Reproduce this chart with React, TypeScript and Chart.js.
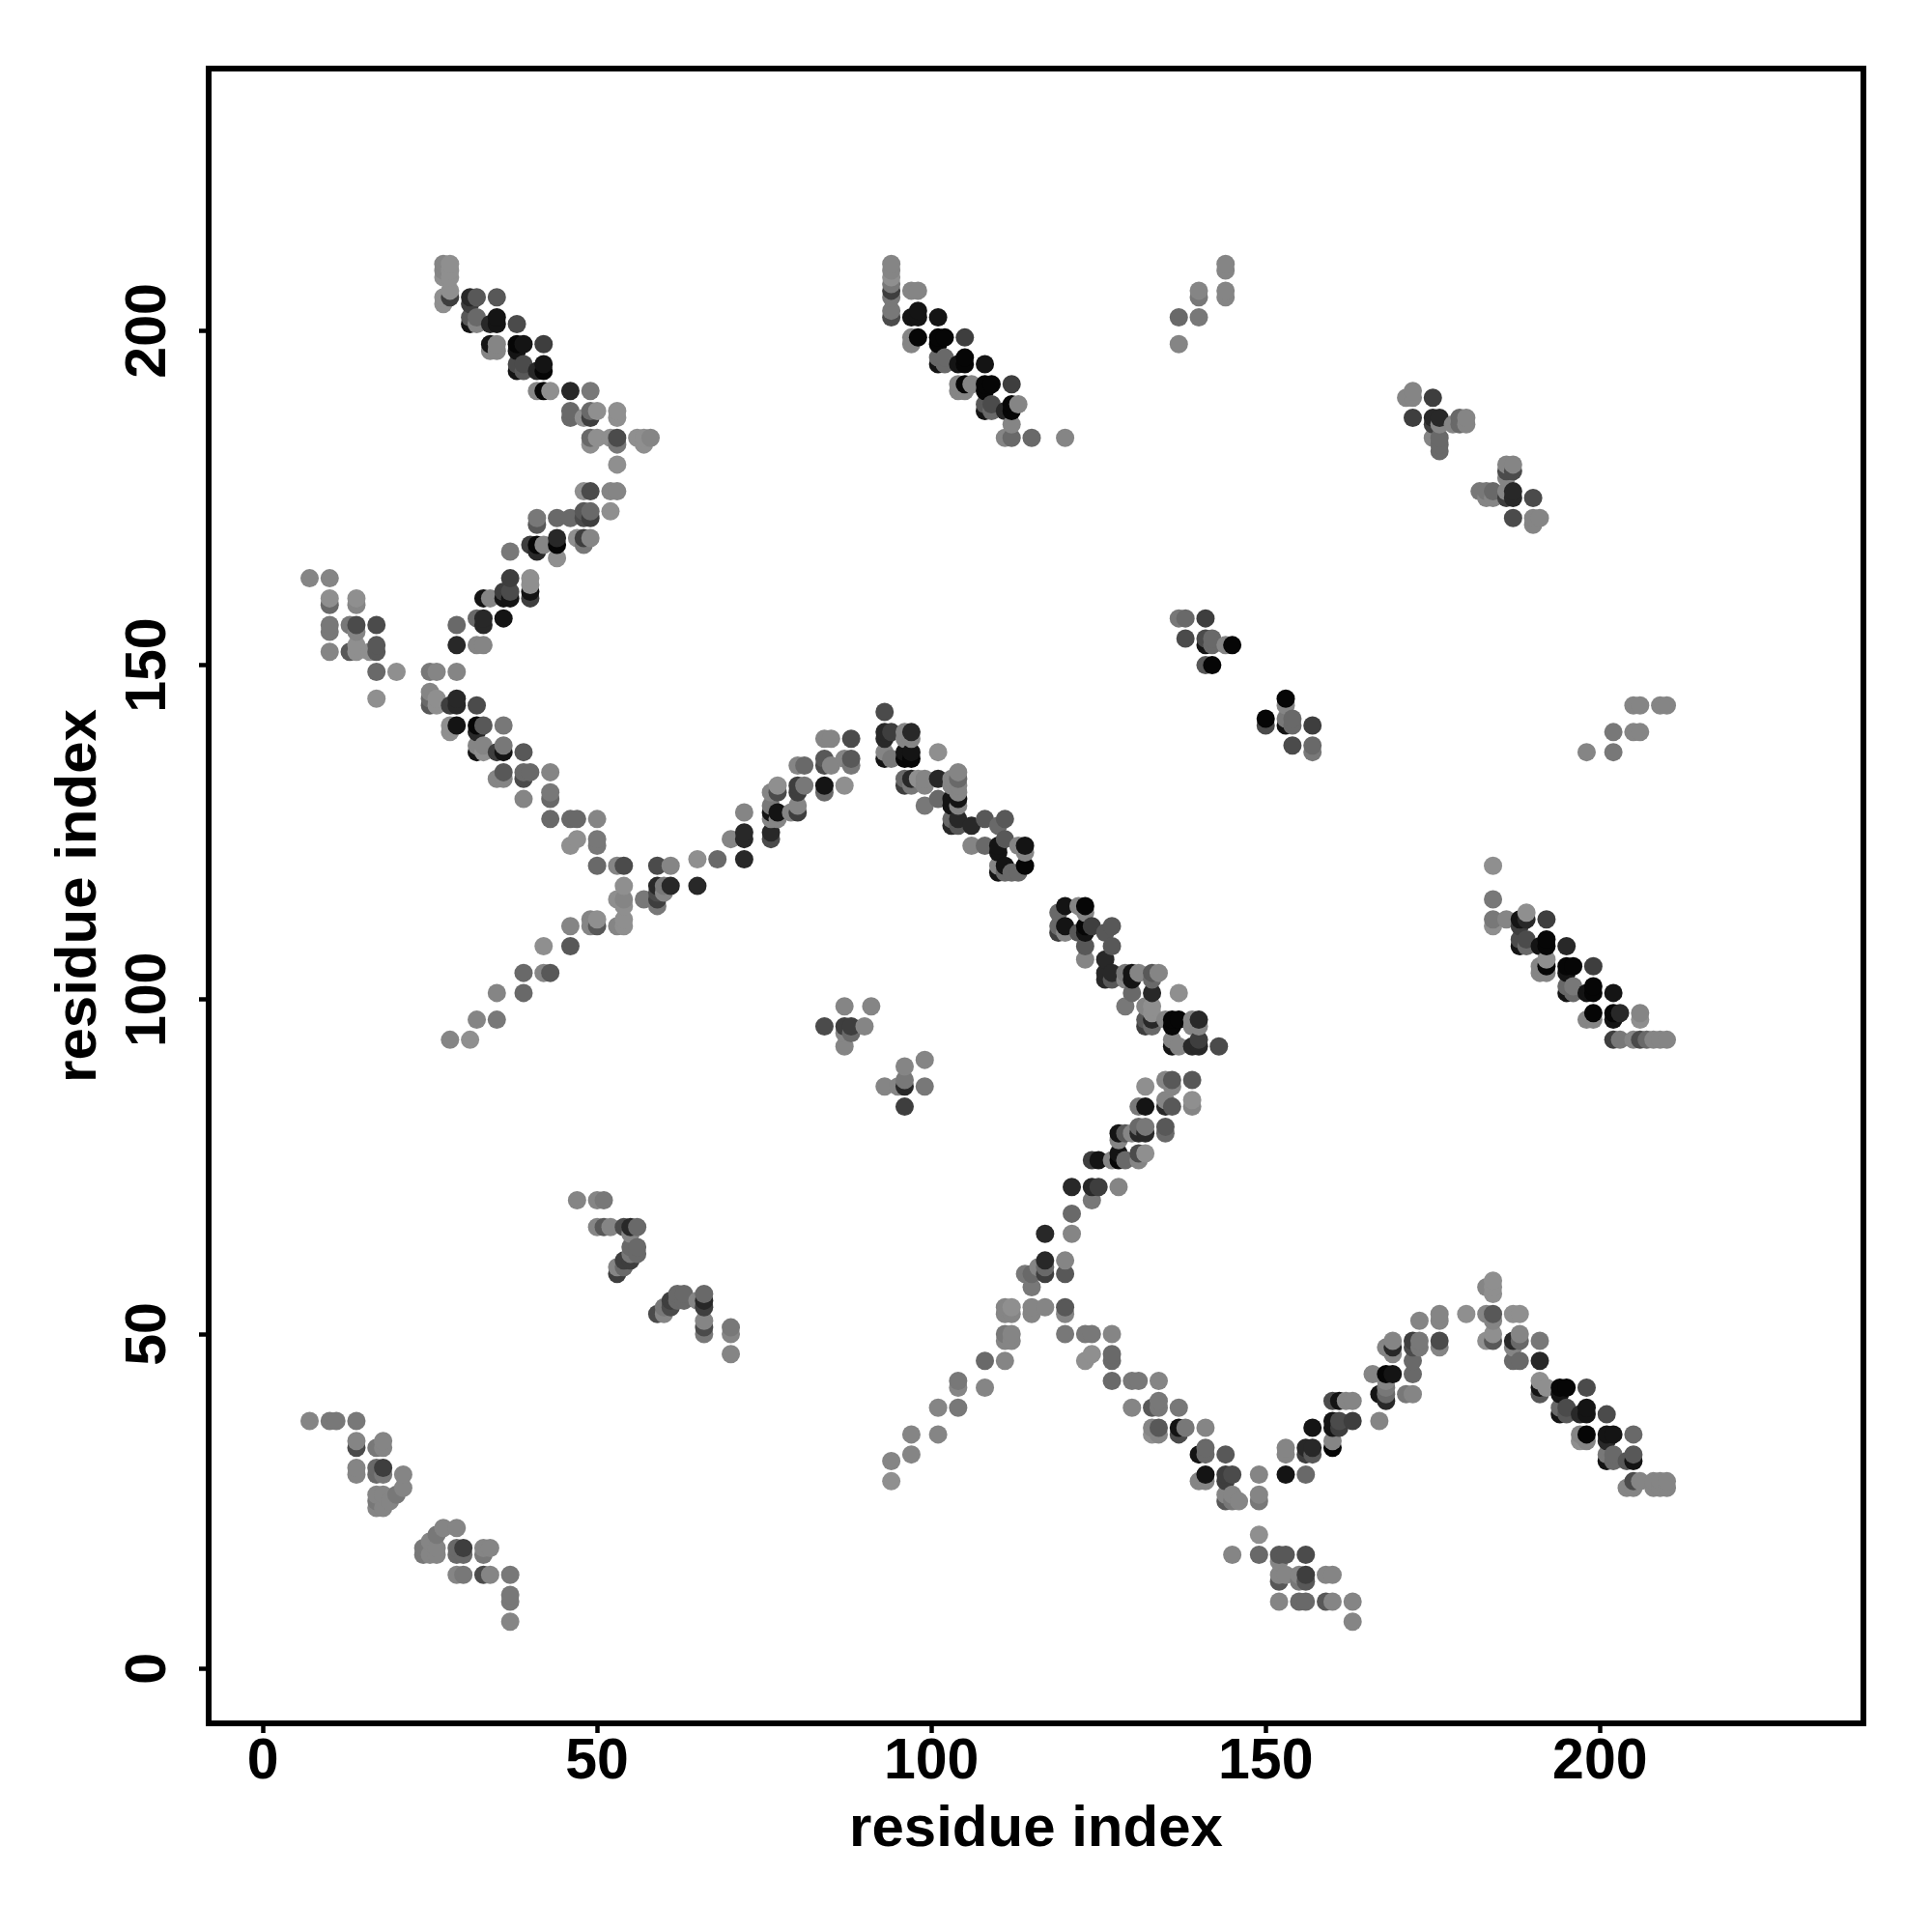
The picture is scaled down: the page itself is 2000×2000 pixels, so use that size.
import React, { useEffect, useRef } from "react";
import { Chart, registerables } from "chart.js";

Chart.register(...registerables);

type P = [number, number, number];

const tickValues = [0, 50, 100, 150, 200];
const axisTitle = "residue index";
// each entry: residue i, residue j, contact weight 0..9
const upperLeftA: P[] = [
[27,210,1],[28,210,0],[27,209,1],[28,209,0],[27,208,0],[28,208,0],[27,205,0],[27,204,0],[28,205,6],[28,206,0],
[31,205,7],[32,205,4],[31,204,6],[35,205,4],[31,201,8],[31,202,4],[32,202,3],[32,201,1],[34,201,7],[35,202,8],[35,201,8],[38,201,5],
[34,198,8],[35,198,1],[34,197,1],[35,197,1],[38,198,9],[39,198,8],[38,197,8],[42,198,6],[38,195,5],[38,194,8],[39,195,5],[39,194,4],
[41,194,7],[42,195,8],[42,194,9],[41,191,1],[42,191,9],[43,191,0],[46,191,7],[49,191,2],[46,188,3],[46,187,3],[49,188,3],[50,188,0],[49,187,6],[48,187,0],
[53,188,0],[53,187,0],[49,184,3],[50,184,0],[49,183,0],[52,184,0],[53,184,5],[53,183,2],[56,184,0],[57,184,0],[58,184,1],[57,183,0],[53,180,0],
[48,176,0],[49,176,5],[52,176,1],[53,176,1],[52,173,0],[48,173,4],[49,173,3],[48,172,5],[49,172,6],[46,172,3],[44,172,3],[41,172,2],[41,171,4],
[47,169,0],[48,169,6],[49,169,1],[48,168,2],[44,169,7],[44,168,9],[44,166,0],[40,168,6],[41,168,9],[41,167,7],[42,168,1],[37,167,2],
[37,163,6],[40,163,0],[40,162,0],[40,160,6],[40,161,8],[36,161,6],[37,161,5],[36,160,8],[37,160,8],[33,160,8],[34,160,1],[36,157,8],[33,157,7],[33,156,7],[32,157,3],[29,156,3],
];
const upperLeftB: P[] = [
[7,163,1],[10,163,1],[10,160,0],[10,159,3],[14,160,0],[14,159,1],[10,156,2],[10,155,2],[13,156,2],[14,156,5],[17,156,5],[13,152,4],[14,155,1],[14,153,0],[14,152,0],[10,152,1],
[17,153,4],[17,152,4],[16,152,0],[17,149,3],[20,149,0],[17,145,0],[29,153,7],[32,153,1],[33,153,1],[25,149,2],[26,149,1],[29,149,1],[25,146,1],[25,144,4],[26,145,0],[25,145,3],[26,144,0],
[28,144,6],[29,145,7],[29,144,7],[32,144,5],[28,141,0],[28,140,0],[29,141,8],[32,141,9],[33,141,4],[32,140,7],[36,141,2],[32,138,1],[33,137,0],[32,137,8],[33,138,1],
[35,137,6],[36,138,2],[36,137,8],[39,137,4],[36,134,4],[35,133,1],[36,133,1],[39,134,3],[40,134,3],[39,133,5],[43,134,1],[39,130,1],[43,131,2],[43,130,3],
[43,127,3],[46,127,3],[47,127,3],[50,127,1],[47,124,0],[46,123,0],[50,124,2],[50,123,2],[50,120,3],
];
const centreLeft: P[] = [
[53,120,1],[54,120,5],[59,120,5],[61,120,1],[65,121,0],[68,121,3],[72,121,7],[72,124,7],[72,125,7],[70,124,1],[72,128,1],[76,124,5],[76,125,7],
[54,117,0],[53,115,0],[54,115,1],[54,114,0],[57,115,2],[59,117,7],[61,117,7],[60,117,2],[59,116,5],[60,116,1],[59,115,6],[59,114,2],[65,117,7],
[54,112,0],[54,111,0],[53,111,1],[50,112,0],[49,112,1],[49,111,1],[50,111,4],[46,111,1],[46,108,4],[42,108,0],[39,104,3],[42,104,1],[43,104,4],
[35,101,1],[39,101,3],[32,97,1],[35,97,2],[28,94,1],[31,94,0],
[76,131,1],[77,132,0],[77,131,5],[76,128,8],[77,128,8],[76,127,1],[77,127,1],[76,129,2],[80,132,6],[80,131,6],[81,132,2],[81,135,3],[80,135,1],[80,128,6],[80,129,1],[79,128,1],
];
const centreTop: P[] = [
[84,139,1],[85,139,1],[88,139,5],[84,136,4],[84,135,5],[85,135,1],[87,136,1],[88,136,4],[88,135,2],[84,132,8],[84,131,3],[87,132,0],[93,143,5],
[93,140,7],[94,140,6],[93,139,7],[96,140,1],[97,140,7],[97,139,1],[96,139,1],[93,137,1],[94,136,2],[93,136,8],[96,136,9],[97,136,9],[97,137,8],[96,137,8],[101,137,0],
[96,133,3],[96,132,6],[97,133,7],[97,132,2],[98,133,0],[99,133,1],[99,132,1],[101,133,7],[99,129,2],[101,130,3],[104,134,1],[104,133,3],[103,133,1],[104,132,1],[104,131,1],[103,132,1],
[104,130,8],[103,130,8],[104,129,1],[103,129,8],[103,127,3],[104,127,7],[103,126,7],[104,126,4],[106,126,7],[108,127,4],[111,127,4],[110,126,3],[111,124,4],[110,123,8],[110,122,8],
[106,123,1],[108,123,3],[113,123,1],[114,123,8],[114,122,1],[114,120,9],[113,119,3],[110,120,1],[111,120,8],[110,119,8],[111,119,3],[112,119,3],
[120,114,8],[123,114,9],[122,114,1],[123,113,1],[119,113,3],[120,111,8],[119,111,3],[119,110,6],[120,110,1],[123,111,9],[123,110,8],[122,110,4],[124,111,6],[127,111,4],[126,110,4],
[123,108,4],[123,106,1],[127,108,4],[126,106,7],[126,104,7],[127,104,7],[126,103,7],[127,103,4],[129,104,2],[130,104,8],[130,103,8],[131,104,1],[129,103,1],[133,104,4],[134,104,1],[133,103,3],
[133,101,7],[130,101,3],[129,99,2],[137,101,0],[132,99,1],[133,99,0],[133,98,0],[132,97,4],[133,97,7],[132,96,6],[133,96,3],[135,97,1],[136,97,9],[137,97,9],[136,96,9],[139,97,1],[140,97,7],[140,96,1],[139,96,1],
[136,93,8],[136,94,1],[137,93,1],[140,94,6],[139,93,7],[140,93,7],[143,93,5],
];
const centreIsland: P[] = [
[84,96,5],[87,99,1],[91,99,1],[87,96,6],[88,96,6],[90,96,1],[87,95,1],[88,95,3],[87,93,1],[96,90,1],[99,91,1],[93,87,1],[96,88,2],[96,87,7],[99,87,2],[96,84,6],[95,87,1],
];
const lowerRise: P[] = [
[139,88,4],[136,88,4],[135,88,1],[136,87,1],[132,87,0],[139,85,0],[139,84,1],[135,85,1],[136,84,4],[135,84,7],[132,84,8],[131,84,2],[135,81,4],[135,80,3],[132,81,2],[131,81,3],[132,80,7],[131,80,7],
[128,80,8],[129,80,4],[130,80,1],[128,79,1],[124,76,6],[125,76,8],[127,76,1],[128,77,8],[128,76,9],[129,76,3],[131,77,5],[132,77,0],[131,76,1],[121,72,7],[124,72,7],[125,72,6],[128,72,1],[124,70,2],
[121,68,3],[121,65,1],[117,65,7],[120,61,1],[120,59,4],[117,61,7],[117,59,6],[116,60,1],[115,59,3],[114,59,2],[115,57,2],[117,60,3],
[111,54,1],[112,54,0],[111,53,1],[112,53,1],[115,54,1],[115,53,1],[117,54,1],[120,54,4],[120,53,1],[111,50,2],[112,50,1],[111,49,1],[112,49,1],
[120,50,2],[123,50,2],[124,50,2],[127,50,1],[108,46,3],[111,46,1],[124,47,0],[123,46,0],[127,47,3],[127,46,3],[108,42,1],[127,43,3],[130,43,2],[131,43,2],[134,43,1],
[130,39,1],[134,40,2],[133,39,4],[134,39,2],[137,39,2],[134,36,4],[133,36,1],[133,35,0],[134,35,1],[137,36,8],[138,36,2],[137,35,5],[141,36,1],
[94,31,1],[94,28,0],[97,32,1],[97,35,1],[101,35,1],[101,39,1],[104,39,2],[104,43,2],[104,42,1],
];
const lowerRight: P[] = [
[141,33,3],[141,32,3],[140,32,8],[144,32,4],[141,29,8],[140,28,1],[141,28,1],[144,29,6],[145,29,5],[144,28,6],[149,29,1],[149,26,1],[149,25,2],[144,26,1],[144,25,4],[145,26,1],[146,25,1],[145,25,2],
[149,20,0],[145,17,1],[149,17,3],[152,17,4],[153,17,4],[156,17,5],[152,16,1],[152,14,1],[153,14,1],[152,13,4],[155,14,1],[156,14,6],[155,13,2],[156,13,4],[159,14,1],[160,14,1],
[152,10,1],[155,10,3],[156,10,3],[159,10,4],[160,10,1],[163,10,1],[163,7,1],[153,29,8],[156,29,3],[153,33,1],[153,32,1],[156,33,7],[157,33,7],[156,32,6],[157,32,4],[157,36,8],
[160,34,1],[160,33,9],[160,37,8],[161,37,5],[160,36,8],[161,36,6],[163,37,6],[160,40,5],[161,40,8],[162,40,1],[163,40,1],[167,37,1],[167,41,8],[168,42,2],[168,41,3],[168,40,7],[171,41,2],[172,41,1],
[166,44,1],[168,44,9],[169,44,8],[172,44,3],[172,46,3],[168,43,1],[168,48,1],[169,49,1],[169,48,7],[169,47,1],[172,49,6],[173,49,2],[172,48,5],[173,48,2],[176,49,5],[176,48,1],[176,53,1],[176,52,1],[173,52,1],
[180,53,0],[183,57,1],[184,58,0],[184,57,0],[184,56,0],[183,53,1],[184,53,4],[184,52,1],[184,50,0],[184,49,4],[183,49,0],[187,53,0],[188,53,0],[187,49,7],[188,50,1],[188,49,3],[187,48,1],[187,46,3],[188,46,3],[191,49,2],[191,46,7],
[191,43,0],[191,41,4],[191,42,8],[192,42,0],[194,42,9],[195,42,9],[194,41,8],[198,42,5],[194,39,3],[194,38,8],[195,39,5],[195,38,4],[197,38,7],[198,39,8],[198,38,8],[201,38,5],
[197,35,1],[198,35,9],[197,34,0],[198,34,1],[201,35,8],[202,35,8],[201,34,7],[205,35,3],[201,32,2],[202,32,3],[201,31,8],[202,31,3],[204,31,4],[205,32,4],[205,31,8],
[204,27,1],[205,28,5],[205,27,1],[206,28,1],[208,28,1],[209,28,1],[210,28,1],[208,27,1],[209,27,1],[210,27,1],
];
const rightBand: P[] = [
[184,120,0],[184,115,2],[184,112,2],[184,111,0],[186,112,1],[188,112,8],[189,113,0],[189,112,7],[188,111,6],[192,112,6],[188,109,5],[188,108,8],[189,109,5],[189,108,3],[191,108,8],[192,109,9],[192,108,9],[195,108,7],
[191,105,1],[192,106,0],[192,105,9],[191,104,1],[192,104,1],[195,105,9],[196,105,9],[195,104,8],[199,105,6],[195,102,3],[196,102,2],[195,101,8],[196,101,3],[198,101,8],[199,102,9],[199,101,9],[202,101,8],
[198,97,1],[199,98,9],[199,97,1],[202,98,9],[203,98,7],[202,97,8],[206,98,1],[206,97,0],[202,94,6],[203,94,2],[205,94,1],[206,94,5],[207,94,3],[208,94,1],[209,94,1],[210,94,1],
];
const lowerLeft: P[] = [
[7,37,1],[10,37,2],[11,37,2],[14,37,2],[14,34,1],[14,33,5],[17,33,2],[18,34,1],[18,33,1],[14,30,1],[14,29,1],[17,30,3],[17,29,3],[18,30,6],[18,29,2],[21,29,1],[21,27,1],[20,26,2],[17,26,1],[18,26,1],[17,25,2],[17,24,1],[18,24,1],[19,25,1],
[27,21,1],[29,21,1],[26,20,2],[25,19,1],[24,18,2],[24,17,2],[25,17,1],[26,17,1],[26,18,1],[29,18,3],[30,18,6],[29,17,3],[30,17,3],[33,18,1],[34,18,1],[33,17,2],[29,14,1],[30,14,2],[33,14,5],[34,14,1],[37,14,2],[37,11,2],[37,10,2],[37,7,1],
];
const lowerMiddle: P[] = [
[47,70,1],[50,70,1],[51,70,2],[50,66,1],[51,66,4],[52,66,1],[54,66,5],[55,66,7],[56,66,3],[55,65,1],[56,63,3],[55,63,3],[56,62,3],[55,62,2],[54,61,6],[55,61,6],[53,60,1],[54,60,3],[53,59,6],
[59,53,5],[60,53,1],[60,54,2],[61,55,6],[61,54,5],[62,56,3],[63,55,3],[62,55,3],[63,56,3],[65,55,1],[66,56,3],[66,55,7],[66,54,6],[66,52,1],[66,51,5],[66,50,2],[70,51,2],[70,50,1],[70,47,1],
];
const upperMiddle: P[] = [
[94,210,1],[94,209,1],[94,208,0],[94,207,2],[94,206,6],[94,205,2],[94,203,2],[94,202,5],[97,206,1],[98,206,1],[97,202,8],[98,203,8],[98,202,8],[101,202,8],[97,199,1],[98,199,9],[97,198,1],
[101,199,9],[102,199,9],[101,198,9],[105,199,6],[101,196,3],[102,196,3],[101,195,8],[102,195,3],[104,195,8],[105,196,9],[105,195,9],[108,195,8],[104,192,1],[104,191,1],[105,192,9],[105,191,1],[106,192,1],
[108,192,9],[109,192,9],[108,191,9],[112,192,6],[108,189,4],[108,188,8],[109,189,5],[109,188,3],[111,188,7],[112,189,9],[112,188,9],[113,189,1],[112,186,1],[111,184,1],[112,184,3],[115,184,3],[120,184,1],
];
const upperRight: P[] = [
[144,210,1],[144,209,1],[144,206,1],[144,205,1],[140,206,1],[140,205,2],[137,202,3],[140,202,2],[137,198,1],
[172,191,1],[171,190,1],[172,190,1],[175,190,6],[172,187,6],[175,187,7],[176,187,7],[175,186,6],[176,186,1],[179,187,3],[180,187,1],[179,186,3],[180,186,1],[178,186,1],[175,184,1],[176,184,3],[176,183,3],[176,182,3],
[186,180,1],[187,180,1],[186,179,5],[187,179,5],[186,178,1],[182,176,2],[183,175,1],[184,176,3],[183,176,2],[184,175,1],[186,176,1],[187,176,7],[187,175,7],[186,175,6],[190,175,5],[187,172,5],[190,172,1],[191,172,1],[190,171,1],
[137,157,2],[138,157,3],[141,157,6],[138,154,5],[141,154,5],[142,154,3],[141,153,8],[142,153,3],[144,153,1],[145,153,9],[141,150,4],[142,150,9],
[153,145,9],[153,144,1],[150,142,9],[150,141,5],[153,141,8],[153,142,2],[154,142,3],[154,141,3],[157,141,6],[154,138,5],[157,138,3],[157,137,2],
[198,137,1],[202,137,2],[202,140,2],[205,140,1],[206,140,1],[205,144,1],[206,144,1],[209,144,1],[210,144,1],
];

const contacts: P[] = [
  ...upperLeftA, ...upperLeftB, ...centreLeft, ...centreTop, ...centreIsland, ...lowerRise,
  ...lowerRight, ...rightBand, ...lowerLeft, ...lowerMiddle, ...upperMiddle, ...upperRight,
].sort((a, b) => a[0] - b[0] || a[1] - b[1]);

const greyOfWeight = [143, 133, 120, 105, 88, 75, 62, 40, 20, 6];
const TICK_FONT = { family: "'Liberation Sans', Arial, sans-serif", size: 59, weight: "bold" as const };
const TITLE_FONT = { family: "'Liberation Sans', Arial, sans-serif", size: 60, weight: "bold" as const };

const boxPlugin = {
  id: "box",
  afterDraw(chart: any) {
    const { ctx, chartArea: a } = chart;
    ctx.save();
    ctx.strokeStyle = "#000";
    ctx.lineWidth = 6;
    ctx.strokeRect(a.left, a.top, a.right - a.left, a.bottom - a.top);
    ctx.restore();
  },
};

export default function App() {
  const ref = useRef<HTMLCanvasElement>(null);
  useEffect(() => {
    document.body.style.margin = "0";
    const chart = new Chart(ref.current!, {
      type: "scatter",
      data: {
        datasets: [{
          data: contacts.map(([x, y]) => ({ x, y })),
          pointRadius: 9.5,
          pointBorderWidth: 0,
          pointBackgroundColor: contacts.map(([, , w]) => `rgb(${greyOfWeight[w]},${greyOfWeight[w]},${greyOfWeight[w]})`),
        }],
      },
      plugins: [boxPlugin],
      options: {
        responsive: false,
        animation: false,
        layout: { padding: { top: 71, right: 71, left: 0, bottom: 0 } },
        plugins: { legend: { display: false }, tooltip: { enabled: false } },
        scales: {
          x: {
            type: "linear", min: -8.1, max: 239.4,
            afterBuildTicks: (s: any) => { s.ticks = tickValues.map((value) => ({ value })); },
            afterFit: (s: any) => { s.height = 216; },
            grid: { drawOnChartArea: false, tickLength: 10, tickWidth: 4.5, tickColor: "#000" },
            border: { color: "#000", width: 6 },
            ticks: { font: TICK_FONT, color: "#000", padding: -5, maxRotation: 0, minRotation: 0, autoSkip: false, callback: (v: any) => String(v) },
            title: { display: true, text: axisTitle, font: TITLE_FONT, color: "#000", padding: { top: 0, bottom: 70 } },
          },
          y: {
            type: "linear", min: -8.2, max: 239.2,
            afterBuildTicks: (s: any) => { s.ticks = tickValues.map((value) => ({ value })); },
            afterFit: (s: any) => { s.width = 216; },
            grid: { drawOnChartArea: false, tickLength: 10, tickWidth: 4.5, tickColor: "#000" },
            border: { color: "#000", width: 6 },
            ticks: { font: TICK_FONT, color: "#000", padding: 2, maxRotation: 90, minRotation: 90, autoSkip: false, crossAlign: "center", callback: (v: any) => String(v) },
            title: { display: true, text: axisTitle, font: TITLE_FONT, color: "#000", padding: { top: 46, bottom: 0 } },
          },
        },
      } as any,
    });
    return () => chart.destroy();
  }, []);
  return <canvas ref={ref} width={2000} height={2000} style={{ display: "block" }} />;
}
